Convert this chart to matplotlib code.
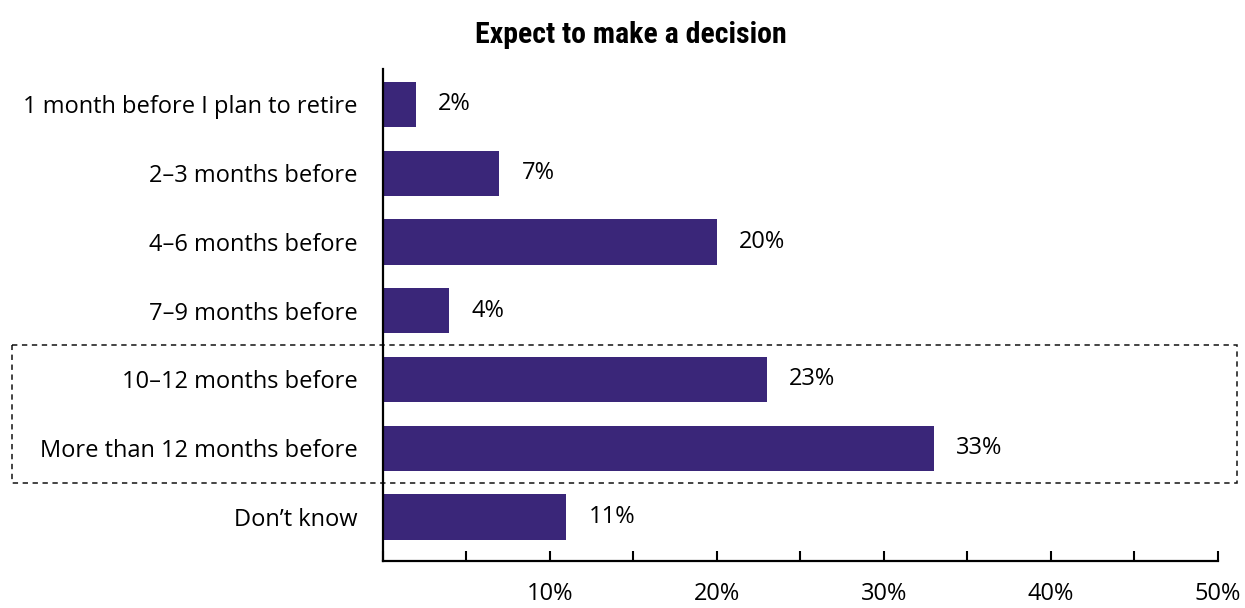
import matplotlib.pyplot as plt
import matplotlib.transforms as mtransforms
from matplotlib import font_manager
from matplotlib.patches import Rectangle

# survey answers, top to bottom
categories = ["1 month before I plan to retire", "2\u20133 months before",
              "4\u20136 months before", "7\u20139 months before",
              "10\u201312 months before", "More than 12 months before",
              "Don\u2019t know"]
values = [2, 7, 20, 4, 23, 33, 11]
xticks = [0, 5, 10, 15, 20, 25, 30, 35, 40, 45, 50]
xticklabels = ["", "", "10%", "", "20%", "", "30%", "", "40%", "", "50%"]
# rows wrapped by the dashed box
boxed = [4, 5]

bar_color = "#3a2679"
label_font = "Open Sans"

# narrow bold face for the heading, whichever is installed
installed = {f.name for f in font_manager.fontManager.ttflist}
title_font, title_size = "DejaVu Sans", 18
for name, size in [("Roboto Condensed", 21.5), ("Liberation Sans Narrow", 21.5),
                   ("DejaVu Sans Condensed", 18.5), ("Open Sans Condensed", 21.5)]:
    if name in installed:
        title_font, title_size = name, size
        break

fig = plt.figure(figsize=(12.45, 6.08), dpi=100)
ax = fig.add_axes([382.5 / 1245, 1 - 561 / 608, (1218 - 382.5) / 1245, (561 - 69) / 608])

y = list(range(len(categories)))
bars = ax.barh(y, values, height=0.655, color=bar_color)
for b, v in zip(bars, values):
    ax.annotate(f"{v}%", (b.get_width(), b.get_y() + b.get_height() / 2),
                xytext=(16, 0), textcoords="offset points", va="center", ha="left",
                fontsize=17, family=label_font)

ax.set_xlim(0, 50)
ax.set_ylim(6.64, -0.516)
ax.set_yticks(y)
ax.set_yticklabels(categories, fontsize=17, family=label_font)
ax.set_xticks(xticks)
ax.set_xticklabels(xticklabels, fontsize=17, family=label_font)
ax.tick_params(axis="y", length=0, pad=18)
ax.tick_params(axis="x", direction="in", length=7, width=1.5, pad=15)

for side in ["top", "right"]:
    ax.spines[side].set_visible(False)
for side in ["left", "bottom"]:
    ax.spines[side].set_linewidth(1.6)

# dashed frame around the longer lead times
trans = mtransforms.blended_transform_factory(fig.transFigure, ax.transData)
y0 = min(boxed) - 0.5
y1 = max(boxed) + 0.5
box = Rectangle((12 / 1245, y0), (1237 - 12) / 1245, y1 - y0, transform=trans,
                fill=False, edgecolor="#111111", linewidth=1.1, linestyle=(0, (3.5, 3)),
                clip_on=False)
ax.add_patch(box)

fig.text(630.5 / 1245, 1 - 35 / 608, "Expect to make a decision", ha="center", va="center",
         fontsize=title_size, fontweight="bold", family=title_font)

fig.savefig("out.png", dpi=100)
